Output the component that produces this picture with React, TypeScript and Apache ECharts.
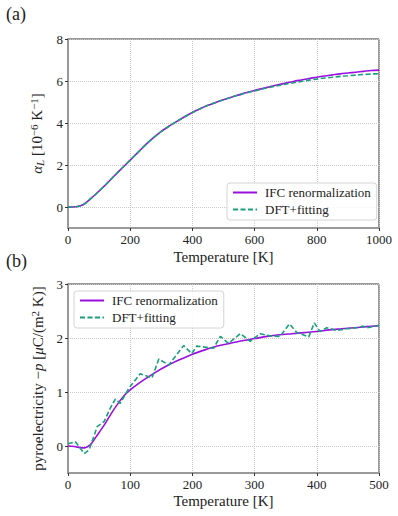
import React, { useEffect, useRef } from "react";
import * as echarts from "echarts";

// Panel (a): thermal expansion coefficient
const tempA = [0, 25, 50, 75, 100, 125, 150, 175, 200, 225, 250, 275, 300, 325, 350, 375, 400, 425, 450, 475, 500, 525, 550, 575, 600, 625, 650, 675, 700, 725, 750, 775, 800, 825, 850, 875, 900, 925, 950, 975, 1000];
const ifcA = [0, 0.01, 0.12, 0.42, 0.76, 1.12, 1.5, 1.87, 2.23, 2.6, 2.97, 3.3, 3.6, 3.85, 4.08, 4.3, 4.5, 4.68, 4.84, 4.98, 5.11, 5.23, 5.34, 5.45, 5.55, 5.64, 5.73, 5.82, 5.9, 5.98, 6.05, 6.12, 6.18, 6.24, 6.29, 6.34, 6.38, 6.42, 6.46, 6.5, 6.52];
const dftA = [0, 0.01, 0.12, 0.42, 0.76, 1.12, 1.5, 1.87, 2.23, 2.6, 2.97, 3.3, 3.6, 3.85, 4.08, 4.3, 4.5, 4.68, 4.84, 4.98, 5.11, 5.23, 5.34, 5.44, 5.53, 5.62, 5.7, 5.78, 5.85, 5.92, 5.98, 6.04, 6.09, 6.14, 6.18, 6.22, 6.25, 6.28, 6.31, 6.33, 6.35];

// Panel (b): pyroelectricity
const tempBifc = [0, 10, 20, 26, 32, 38, 44, 50, 60, 70, 80, 90, 100, 120, 140, 160, 180, 200, 220, 240, 260, 280, 300, 320, 340, 360, 380, 400, 420, 440, 460, 480, 500];
const ifcB = [0, -0.01, -0.03, -0.035, -0.01, 0.05, 0.15, 0.25, 0.42, 0.61, 0.78, 0.93, 1.04, 1.21, 1.36, 1.49, 1.6, 1.7, 1.78, 1.85, 1.9, 1.95, 1.99, 2.03, 2.06, 2.08, 2.1, 2.12, 2.15, 2.17, 2.19, 2.21, 2.23];
const tempBdft = [0, 12, 26, 34, 47, 58, 68, 76, 84, 98, 116, 135, 146, 162, 186, 199, 207, 234, 245, 258, 277, 293, 309, 325, 341, 356, 368, 387, 396, 405, 416, 432, 448, 464, 475, 480, 500];
const dftB = [0.04, 0.08, -0.14, -0.07, 0.36, 0.45, 0.7, 0.87, 0.79, 1.07, 1.34, 1.26, 1.61, 1.5, 1.86, 1.71, 1.85, 1.81, 2.03, 1.9, 2.08, 1.94, 2.08, 2.04, 2.03, 2.26, 2.1, 2.02, 2.28, 2.12, 2.19, 2.14, 2.17, 2.19, 2.22, 2.19, 2.23];

const yTicksA = [0, 2, 4, 6, 8];
const yTicksB = [0, 1, 2, 3];

const seriesNames = ["IFC renormalization", "DFT+fitting"];

const FONT = "'Liberation Serif', serif";
const TXT = "#222";
const PURPLE = "#9b10e0";
const GREEN = "#1a9f7c";

const zip = (xs: number[], ys: number[]) => xs.map((x, i) => [x, ys[i]]);

export default function App() {
  const ref = useRef<HTMLDivElement>(null);
  useEffect(() => {
    if (!ref.current) return;
    const chart = echarts.init(ref.current, undefined, { renderer: "svg" });

    const xAxisCommon = (max: number, interval: number, gridIndex: number, nameGap: number) => ({
      type: "value",
      gridIndex,
      min: 0,
      max,
      interval,
      name: "Temperature [K]",
      nameLocation: "middle",
      nameGap,
      nameTextStyle: { fontFamily: FONT, fontSize: 15, color: TXT },
      axisLine: { show: true, onZero: false, lineStyle: { color: "#999", width: 2 } },
      axisTick: { show: true, length: 3, inside: false, lineStyle: { color: "#333" } },
      axisLabel: { fontFamily: FONT, fontSize: 13, color: TXT, margin: 5, formatter: (v: number) => String(v) },
      splitLine: { show: true, lineStyle: { type: "dotted", color: "#c8c8c8", width: 1 } },
    });

    const yAxisCommon = (min: number, max: number, ticks: number[], gridIndex: number) => ({
      type: "value",
      gridIndex,
      min,
      max,
      axisLine: { show: true, onZero: false, lineStyle: { color: "#999", width: 2 } },
      axisTick: { show: true, length: 3, customValues: ticks, lineStyle: { color: "#333" } },
      axisLabel: { fontFamily: FONT, fontSize: 13, color: TXT, margin: 5, customValues: ticks },
      splitLine: { show: true, lineStyle: { type: "dotted", color: "#c8c8c8", width: 1 } },
    });

    const legendCommon = {
      orient: "vertical",
      data: seriesNames,
      itemWidth: 24,
      itemHeight: 14,
      itemGap: 4,
      padding: [3, 6, 4, 5],
      borderColor: "#d4d4d4",
      borderWidth: 1,
      borderRadius: 3,
      backgroundColor: "rgba(255,255,255,0.85)",
      itemStyle: { color: "transparent", borderWidth: 0, opacity: 0 },
      textStyle: { fontFamily: FONT, fontSize: 13, color: TXT, padding: [0, 0, 0, 3] },
      selectedMode: false,
    };

    chart.setOption({
      animation: false,
      backgroundColor: "#fff",
      textStyle: { fontFamily: FONT },
      grid: [
        { left: 68, top: 39, width: 311, height: 189, show: true, borderColor: "#333", borderWidth: 1, backgroundColor: "transparent" },
        { left: 68, top: 284, width: 311, height: 189, show: true, borderColor: "#333", borderWidth: 1, backgroundColor: "transparent" },
      ],
      xAxis: [xAxisCommon(1000, 200, 0, 21), xAxisCommon(500, 100, 1, 20)],
      yAxis: [
        {
          ...yAxisCommon(-1, 8, yTicksA, 0),
          name: "{i|α}{sub|L} [10{sup|−6} K{sup|−1}]",
          nameLocation: "middle",
          nameRotate: 90,
          nameGap: 11,
          nameTextStyle: {
            fontFamily: FONT,
            fontSize: 15,
            color: TXT,
            rich: {
              i: { fontFamily: FONT, fontSize: 15, fontStyle: "italic", color: TXT },
              sub: { fontFamily: FONT, fontSize: 11, fontStyle: "italic", color: TXT, verticalAlign: "bottom", padding: [6, 0, 0, 0] },
              sup: { fontFamily: FONT, fontSize: 11, color: TXT, verticalAlign: "top", padding: [0, 0, 6, 0] },
            },
          },
        },
        {
          ...yAxisCommon(-0.5, 3, yTicksB, 1),
          name: "pyroelectricity −{i|p} [{i|μ}C/(m{sup|2} K)]",
          nameLocation: "middle",
          nameRotate: 90,
          nameGap: 9,
          nameTextStyle: {
            fontFamily: FONT,
            fontSize: 15,
            color: TXT,
            rich: {
              i: { fontFamily: FONT, fontSize: 15, fontStyle: "italic", color: TXT },
              sup: { fontFamily: FONT, fontSize: 11, color: TXT, verticalAlign: "top", padding: [0, 0, 6, 0] },
            },
          },
        },
      ],
      legend: [
        { ...legendCommon, left: 227, top: 183 },
        { ...legendCommon, left: 74, top: 291 },
      ],
      series: [
        {
          name: seriesNames[0],
          type: "line",
          xAxisIndex: 0,
          yAxisIndex: 0,
          data: zip(tempA, ifcA),
          smooth: 0.3,
          symbol: "none",
          lineStyle: { color: PURPLE, width: 1.6 },
          itemStyle: { color: PURPLE },
          z: 2,
        },
        {
          name: seriesNames[1],
          type: "line",
          xAxisIndex: 0,
          yAxisIndex: 0,
          data: zip(tempA, dftA),
          smooth: 0.3,
          symbol: "none",
          lineStyle: { color: GREEN, width: 1.6, type: [5, 2.5] },
          itemStyle: { color: GREEN },
          z: 3,
        },
        {
          name: seriesNames[0],
          type: "line",
          xAxisIndex: 1,
          yAxisIndex: 1,
          data: zip(tempBifc, ifcB),
          smooth: 0.3,
          symbol: "none",
          lineStyle: { color: PURPLE, width: 1.6 },
          itemStyle: { color: PURPLE },
          z: 2,
        },
        {
          name: seriesNames[1],
          type: "line",
          xAxisIndex: 1,
          yAxisIndex: 1,
          data: zip(tempBdft, dftB),
          symbol: "none",
          lineStyle: { color: GREEN, width: 1.6, type: [5, 2.5] },
          itemStyle: { color: GREEN },
          z: 3,
        },
      ],
      graphic: [
        { type: "text", left: 6, top: 5, style: { text: "(a)", fontFamily: FONT, fontSize: 18, fill: TXT } },
        { type: "text", left: 6, top: 252, style: { text: "(b)", fontFamily: FONT, fontSize: 18, fill: TXT } },
      ],
    });

    return () => chart.dispose();
  }, []);

  return <div ref={ref} style={{ position: "fixed", left: 0, top: 0, width: 398, height: 516 }} />;
}
